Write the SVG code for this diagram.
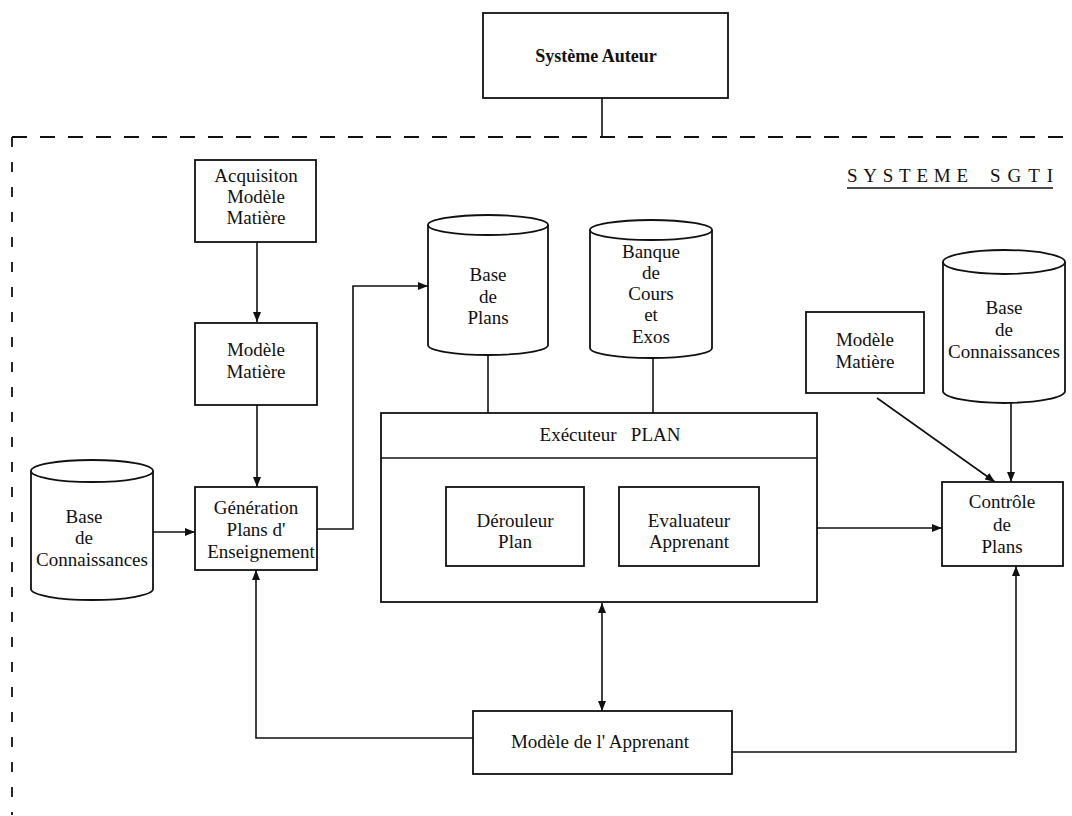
<svg xmlns="http://www.w3.org/2000/svg" width="1072" height="816" viewBox="0 0 1072 816">
<defs>
<marker id="ah" viewBox="0 0 10 8" refX="10" refY="4" markerWidth="10" markerHeight="8" markerUnits="userSpaceOnUse" orient="auto-start-reverse">
<path d="M0,0 L10,4 L0,8 Z" fill="#111"/>
</marker>
<style>
.b{fill:#fff;stroke:#111;stroke-width:1.8}
.c{fill:none;stroke:#111;stroke-width:1.6}
.a{fill:none;stroke:#111;stroke-width:1.6;marker-end:url(#ah)}
.d{fill:none;stroke:#111;stroke-width:1.8}
text{font-family:"Liberation Serif","Times New Roman",serif;font-size:19px;fill:#111;text-anchor:middle}
</style>
</defs>
<rect width="1072" height="816" fill="#fff"/>

<g id="frame">
<line class="d" x1="12" y1="137" x2="1068" y2="137" stroke-dasharray="15 13"/>
<line class="d" x1="12" y1="137" x2="12" y2="815" stroke-dasharray="10 15"/>
<text x="847" y="182" style="text-anchor:start;font-size:19px" textLength="121" lengthAdjust="spacing">SYSTEME</text>
<text x="990" y="182" style="text-anchor:start;font-size:19px" textLength="63" lengthAdjust="spacing">SGTI</text>
<line x1="847" y1="188" x2="1053" y2="188" stroke="#111" stroke-width="1.6"/>
</g>

<g id="connectors">
<line class="c" x1="602" y1="98" x2="602" y2="137"/>
<line class="a" x1="257" y1="242" x2="257" y2="322"/>
<line class="a" x1="257" y1="405" x2="257" y2="487"/>
<line class="a" x1="153" y1="532" x2="195" y2="532"/>
<polyline class="a" points="317,529 353,529 353,286 428,286"/>
<line class="c" x1="488" y1="355" x2="488" y2="413"/>
<line class="c" x1="653" y1="358" x2="653" y2="413"/>
<line class="a" x1="584" y1="527" x2="619" y2="527"/>
<line class="a" x1="817" y1="528" x2="942" y2="528"/>
<line class="a" x1="877" y1="398" x2="995" y2="482"/>
<line class="a" x1="1011" y1="403" x2="1011" y2="482"/>
<line class="a" x1="602" y1="603" x2="602" y2="711" style="marker-start:url(#ah)"/>
<polyline class="a" points="473,738 256,738 256,570"/>
<polyline class="a" points="732,752 1016,752 1016,566"/>
</g>

<g id="systeme-auteur">
<rect class="b" x="483" y="13" width="245" height="85"/>
<text x="596" y="62" style="font-weight:bold;font-size:18px">Système Auteur</text>
</g>

<g id="acquisition">
<rect class="b" x="195" y="160" width="121" height="82"/>
<text x="256" y="182">Acquisiton</text>
<text x="256" y="203">Modèle</text>
<text x="256" y="224">Matière</text>
</g>

<g id="modele-matiere-1">
<rect class="b" x="195" y="323" width="122" height="82"/>
<text x="256" y="356">Modèle</text>
<text x="256" y="378">Matière</text>
</g>

<g id="base-connaissances-1">
<path class="b" d="M31,471 L31,589 A61,11 0 0 0 153,589 L153,471"/>
<ellipse class="b" cx="92" cy="471" rx="61" ry="11"/>
<text x="84" y="523">Base</text>
<text x="84" y="544">de</text>
<text x="92" y="566">Connaissances</text>
</g>

<g id="generation">
<rect class="b" x="195" y="487" width="122" height="83"/>
<text x="256" y="514">Génération</text>
<text x="256" y="536">Plans d'</text>
<text x="261" y="558">Enseignement</text>
</g>

<g id="base-plans">
<path class="b" d="M428,225 L428,345 A60,10 0 0 0 548,345 L548,225"/>
<ellipse class="b" cx="488" cy="225" rx="60" ry="10"/>
<text x="488" y="281">Base</text>
<text x="488" y="303">de</text>
<text x="488" y="324">Plans</text>
</g>

<g id="banque">
<path class="b" d="M590,230 L590,348 A61,10 0 0 0 712,348 L712,230"/>
<ellipse class="b" cx="651" cy="230" rx="61" ry="10"/>
<text x="651" y="258">Banque</text>
<text x="651" y="279">de</text>
<text x="651" y="300">Cours</text>
<text x="651" y="321">et</text>
<text x="651" y="343">Exos</text>
</g>

<g id="executeur">
<rect class="b" x="381" y="413" width="436" height="189"/>
<line class="c" x1="381" y1="458" x2="817" y2="458"/>
<text x="610" y="441" style="white-space:pre" xml:space="preserve">Exécuteur   PLAN</text>
</g>

<g id="derouleur">
<rect class="b" x="446" y="487" width="138" height="79"/>
<text x="515" y="527">Dérouleur</text>
<text x="515" y="548">Plan</text>
</g>

<g id="evaluateur">
<rect class="b" x="619" y="487" width="140" height="79"/>
<text x="689" y="527">Evaluateur</text>
<text x="689" y="548">Apprenant</text>
</g>

<g id="modele-matiere-2">
<rect class="b" x="806" y="312" width="118" height="81"/>
<text x="865" y="346">Modèle</text>
<text x="865" y="368">Matière</text>
</g>

<g id="base-connaissances-2">
<path class="b" d="M943,262 L943,391 A61,12 0 0 0 1065,391 L1065,262"/>
<ellipse class="b" cx="1004" cy="262" rx="61" ry="12"/>
<text x="1004" y="314">Base</text>
<text x="1004" y="336">de</text>
<text x="1004" y="358">Connaissances</text>
</g>

<g id="controle">
<rect class="b" x="942" y="482" width="121" height="84"/>
<text x="1002" y="508">Contrôle</text>
<text x="1002" y="531">de</text>
<text x="1002" y="553">Plans</text>
</g>

<g id="modele-apprenant">
<rect class="b" x="473" y="711" width="259" height="63"/>
<text x="600" y="748">Modèle de l' Apprenant</text>
</g>
</svg>
